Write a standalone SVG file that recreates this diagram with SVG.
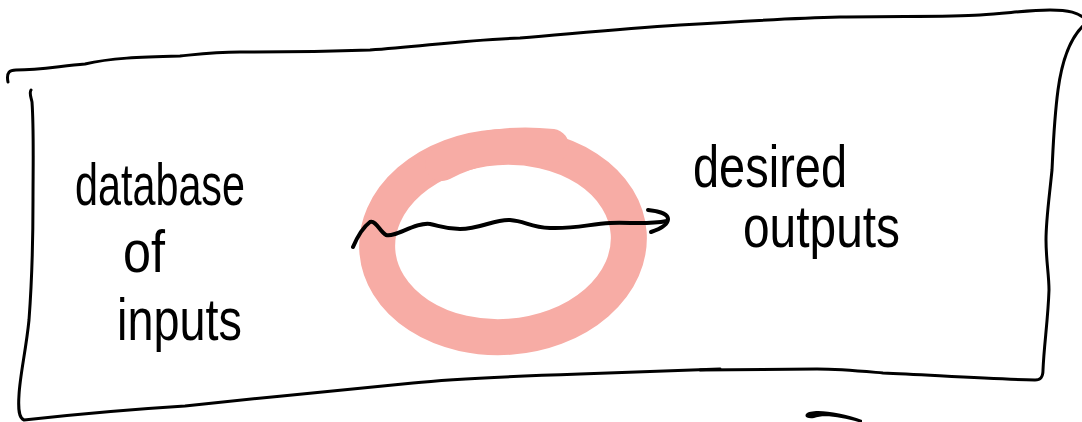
<svg xmlns="http://www.w3.org/2000/svg" width="1082" height="422" viewBox="0 0 1082 422">
  <style>
    .ink { fill: none; stroke: #000; stroke-linecap: round; stroke-linejoin: round; }
    .frame { stroke-width: 3; }
    .conn { stroke-width: 4; }
    .ring { fill: none; stroke: #f7aca5; stroke-linecap: round; }
    .hand { font-family: "Liberation Sans", "DejaVu Sans", sans-serif; font-size: 60px; fill: #000; }
  </style>
  <rect width="1082" height="422" fill="#fff"/>

  <g id="frame">
    <path class="ink frame" d="M8,82 C6,72 10,70 16,70 C40,70 60,66 85,64 C110,58 140,57 180,56 C200,54 215,52 240,52 C300,52 340,51 370,50 C420,47 460,40 520,38 C580,33 620,29 680,25 C760,20 800,18 840,17 C900,16 950,17 980,15 C1010,13 1030,10 1050,10 C1070,10 1078,13 1084,18"/>
    <path class="ink frame" d="M1084,25 C1070,38 1062,60 1058,90 C1054,120 1053,150 1052,170 C1049,200 1046,220 1046,240 C1046,260 1049,275 1049,290 C1048,320 1044,345 1043,370 C1043,378 1040,380 1035,380 C990,379 930,375 883,373 C860,371 840,369 817,369 C780,369 740,370 700,370"/>
    <path class="ink frame" d="M31,90 C29,93 31,97 32,102 C34,130 33,170 33,200 C33,240 32,280 29,320 C26,350 20,375 19,395 C18,410 19,418 24,420 C60,416 120,410 185,406 C260,398 340,390 413,383 C460,378 520,376 580,374 C640,372 680,370 720,369"/>
    <path fill="#000" d="M806,414 C812,408 840,412 862,420 L862,423 C845,418 825,414 814,418 C808,419 804,417 806,414 Z"/>
  </g>

  <g id="model">
    <ellipse class="ring" cx="503" cy="242" rx="126" ry="95" stroke-width="36" transform="rotate(-4 503 242)"/>
    <path class="ring" stroke-width="34" d="M442,164 C470,148 510,141 552,146"/>
  </g>

  <g id="inputs">
    <text class="hand" x="75" y="205" textLength="170" lengthAdjust="spacingAndGlyphs">database</text>
    <text class="hand" x="123" y="272" textLength="42" lengthAdjust="spacingAndGlyphs">of</text>
    <text class="hand" x="117" y="340" textLength="125" lengthAdjust="spacingAndGlyphs">inputs</text>
  </g>

  <g id="outputs">
    <text class="hand" x="693" y="187" textLength="154" lengthAdjust="spacingAndGlyphs">desired</text>
    <text class="hand" x="743" y="247" textLength="157" lengthAdjust="spacingAndGlyphs">outputs</text>
  </g>

  <g id="connectors">
    <path class="ink conn" d="M353,247 C356,240 362,228 370,222 C376,220 380,232 386,235 C395,238 415,222 430,224 C440,226 445,229 460,229 C480,229 495,219 510,220 C525,221 530,227 550,228 C575,229 590,224 610,223 C630,222 645,225 667,221"/>
    <path class="ink conn" d="M648,210 C658,211 668,214 668,219 C668,225 660,229 651,232"/>
  </g>
</svg>
